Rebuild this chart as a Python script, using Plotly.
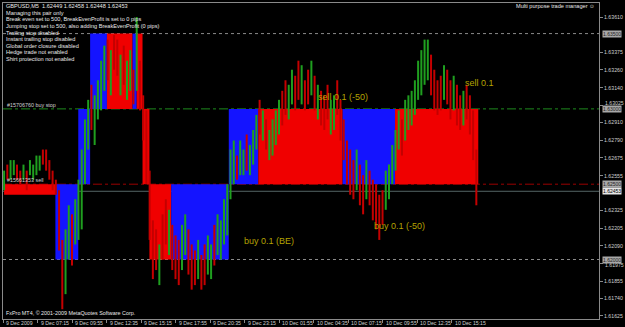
import plotly.graph_objects as go
from datetime import datetime, timedelta

# ---------------- data ----------------
header_text = "GBPUSD,M5  1.62449 1.62458 1.62448 1.62453"
info_lines = [
    "Managing this pair only",
    "Break even set to 500, BreakEvenProfit is set to 0 pips",
    "Jumping stop set to 500, also adding BreakEvenProfit (0 pips)",
    "Trailing stop disabled",
    "Instant trailing stop disabled",
    "Global order closure disabled",
    "Hedge trade not enabled",
    "Shirt protection not enabled",
]
ea_name = "Multi purpose trade manager \u263a"
copyright_text = "FxPro MT4, \u00a9 2001-2009 MetaQuotes Software Corp."

bar_start = "2009-12-09 04:40"
bar_step_min = 15
bar_high = [
    1.6259, 1.6263, 1.6266, 1.6266, 1.6263, 1.6259, 1.6263, 1.6259, 1.6266, 1.6263,
    1.6269, 1.6269, 1.6273, 1.6273, 1.6266, 1.6259, 1.6253, 1.6246, 1.6213, 1.6220,
    1.6236, 1.6230, 1.6240, 1.6253, 1.6273, 1.6293, 1.6306, 1.6316, 1.6309, 1.6319,
    1.6332, 1.6342, 1.6346, 1.6339, 1.6349, 1.6346, 1.6336, 1.6342, 1.6332, 1.6339,
    1.6326, 1.6361, 1.6332, 1.6309, 1.6299, 1.6259, 1.6226, 1.6220, 1.6210, 1.6230,
    1.6240, 1.6233, 1.6223, 1.6216, 1.6213, 1.6223, 1.6230, 1.6220, 1.6210, 1.6206,
    1.6213, 1.6203, 1.6210, 1.6216, 1.6210, 1.6223, 1.6230, 1.6226, 1.6240, 1.6250,
    1.6273, 1.6279, 1.6269, 1.6279, 1.6273, 1.6283, 1.6276, 1.6286, 1.6296, 1.6306,
    1.6299, 1.6293, 1.6286, 1.6293, 1.6299, 1.6306, 1.6312, 1.6319, 1.6316, 1.6326,
    1.6322, 1.6332, 1.6329, 1.6319, 1.6326, 1.6332, 1.6322, 1.6316, 1.6312, 1.6309,
    1.6316, 1.6306, 1.6309, 1.6319, 1.6306, 1.6293, 1.6279, 1.6273, 1.6266, 1.6273,
    1.6263, 1.6256, 1.6266, 1.6259, 1.6253, 1.6250, 1.6243, 1.6246, 1.6259, 1.6263,
    1.6276, 1.6286, 1.6299, 1.6293, 1.6306, 1.6309, 1.6312, 1.6319, 1.6332, 1.6339,
    1.6346, 1.6346, 1.6336, 1.6326, 1.6319, 1.6322, 1.6329, 1.6326, 1.6319, 1.6322,
    1.6316, 1.6309, 1.6312, 1.6316, 1.6309, 1.6299, 1.6273,
]
bar_low = [
    1.6246, 1.6253, 1.6253, 1.6256, 1.6253, 1.6250, 1.6253, 1.6246, 1.6256, 1.6253,
    1.6256, 1.6259, 1.6263, 1.6259, 1.6253, 1.6246, 1.6243, 1.6206, 1.6167, 1.6177,
    1.6200, 1.6196, 1.6210, 1.6213, 1.6220, 1.6250, 1.6273, 1.6286, 1.6276, 1.6293,
    1.6299, 1.6312, 1.6319, 1.6309, 1.6326, 1.6322, 1.6309, 1.6316, 1.6306, 1.6312,
    1.6303, 1.6312, 1.6299, 1.6279, 1.6250, 1.6213, 1.6187, 1.6193, 1.6183, 1.6200,
    1.6210, 1.6203, 1.6193, 1.6187, 1.6183, 1.6193, 1.6203, 1.6190, 1.6180, 1.6183,
    1.6187, 1.6180, 1.6183, 1.6190, 1.6187, 1.6196, 1.6203, 1.6200, 1.6210, 1.6216,
    1.6240, 1.6250, 1.6253, 1.6256, 1.6256, 1.6259, 1.6256, 1.6263, 1.6273, 1.6283,
    1.6279, 1.6273, 1.6266, 1.6269, 1.6276, 1.6283, 1.6289, 1.6296, 1.6293, 1.6303,
    1.6299, 1.6306, 1.6303, 1.6299, 1.6303, 1.6309, 1.6299, 1.6293, 1.6289, 1.6286,
    1.6293, 1.6283, 1.6286, 1.6296, 1.6279, 1.6266, 1.6250, 1.6243, 1.6240, 1.6246,
    1.6236, 1.6230, 1.6240, 1.6236, 1.6226, 1.6220, 1.6213, 1.6223, 1.6233, 1.6240,
    1.6250, 1.6259, 1.6273, 1.6269, 1.6279, 1.6286, 1.6289, 1.6296, 1.6306, 1.6309,
    1.6316, 1.6319, 1.6309, 1.6299, 1.6296, 1.6299, 1.6306, 1.6303, 1.6293, 1.6299,
    1.6289, 1.6286, 1.6289, 1.6293, 1.6283, 1.6266, 1.6236,
]
bar_dir = ("uduudduduuuudddd" "ddduudu" "uuuuduuuu" "dudduduud" "udddddduddud"
           "dduudddudduuduuu" "uuuduuduuu" "duduuuudduudduddududdduudd"
           "ddddudduddddduuu" "uuduuuuuuuu" "ddddudduddudddd")

zone_start = ["2009-12-09 04:40", "2009-12-09 08:38", "2009-12-09 10:24", "2009-12-09 11:19",
              "2009-12-09 12:37", "2009-12-09 14:36", "2009-12-09 14:55", "2009-12-09 15:22",
              "2009-12-09 15:54", "2009-12-09 17:35", "2009-12-09 22:02", "2009-12-10 00:19",
              "2009-12-10 06:50", "2009-12-10 10:53"]
zone_end = ["2009-12-09 08:38", "2009-12-09 10:24", "2009-12-09 11:19", "2009-12-09 12:37",
            "2009-12-09 14:36", "2009-12-09 14:55", "2009-12-09 15:22", "2009-12-09 15:54",
            "2009-12-09 17:35", "2009-12-09 22:02", "2009-12-10 00:19", "2009-12-10 06:50",
            "2009-12-10 10:53", "2009-12-10 17:19"]
zone_low = [1.6243, 1.6200, 1.6250, 1.6300, 1.6300, 1.6300, 1.6300, 1.6250,
            1.6200, 1.6200, 1.6250, 1.6250, 1.6250, 1.6250]
zone_high = [1.6250, 1.6250, 1.6300, 1.6350, 1.6350, 1.6350, 1.6350, 1.6300,
             1.6250, 1.6250, 1.6300, 1.6300, 1.6300, 1.6300]
zone_kind = ["sell", "buy", "buy", "buy", "sell", "buy", "sell", "sell",
             "sell", "buy", "buy", "sell", "buy", "sell"]

level_price = [1.63500, 1.63000, 1.62500, 1.62453, 1.62000]
level_kind = ["grid", "buystop", "sell", "bid", "grid"]
level_label = ["1.63500", "1.63000", "1.62500", "1.62453", "1.62000"]
order_text = ["#15706760 buy stop", "#15661353 sell"]
order_price = [1.63000, 1.62500]

trade_text = ["sell 0.1 (-50)", "sell 0.1", "buy 0.1 (BE)", "buy 0.1 (-50)"]
trade_time = ["2009-12-10 04:46", "2009-12-10 16:10", "2009-12-09 23:01", "2009-12-10 09:07"]
trade_price = [1.6308, 1.6317, 1.6212, 1.6222]

# axis price labels (those fully hidden behind the price boxes are left out)
y_ticks = [1.63610, 1.63375, 1.63260, 1.63140, 1.63025, 1.62910, 1.62790,
           1.62675, 1.62555, 1.62325, 1.62205, 1.62090, 1.61975, 1.61855,
           1.61740, 1.61625]
# labels squeezed next to a price box: drawn with a small nudge (px)
y_nudged = {1.63025: 2, 1.61975: -2}
x_tick_times = ["2009-12-09 04:35", "2009-12-09 07:15", "2009-12-09 09:55", "2009-12-09 12:35",
                "2009-12-09 15:15", "2009-12-09 17:55", "2009-12-09 20:35", "2009-12-09 23:15",
                "2009-12-10 01:55", "2009-12-10 04:35", "2009-12-10 07:15", "2009-12-10 09:55",
                "2009-12-10 12:35", "2009-12-10 15:15"]
x_tick_labels = ["9 Dec 2009", "9 Dec 07:15", "9 Dec 09:55", "9 Dec 12:35", "9 Dec 15:15",
                 "9 Dec 17:55", "9 Dec 20:35", "9 Dec 23:15", "10 Dec 01:55", "10 Dec 04:35",
                 "10 Dec 07:15", "10 Dec 09:55", "10 Dec 12:35", "10 Dec 15:15"]

# ---------------- styling / layout ----------------
W, H = 625, 327
ML, MR, MT, MB = 2, 21, 3, 8
PW, PH = W - ML - MR, H - MT - MB
FONT = "Liberation Sans, Arial, sans-serif"
UP, DOWN = "#1f9f1f", "#c40000"
ZONE_COL = {"buy": "#1414ff", "sell": "#f00000"}
LEVEL_STYLE = {
    "grid": dict(color="#8a8a8a", dash="dot", width=1),
    "buystop": dict(color="#1e8a1e", dash="dashdot", width=1),
    "sell": dict(color="#9a0000", dash="dashdot", width=1),
    "bid": dict(color="#556666", dash="solid", width=1),
}
AX_FONT = dict(family=FONT, size=5.2, color="#d0d0d0")


def px(xp):
    return (xp - ML) / PW


def py(yp):
    return 1 - (yp - MT) / PH


t0 = datetime.strptime(x_tick_times[0], "%Y-%m-%d %H:%M")
min_per_px = 160 / 34.85
x_range = [t0, t0 + timedelta(minutes=PW * min_per_px)]
y_range = [1.61605, 1.63703]

start = datetime.strptime(bar_start, "%Y-%m-%d %H:%M")
ux, uy, dx, dy = [], [], [], []
for i, (hi, lo, d) in enumerate(zip(bar_high, bar_low, bar_dir)):
    t = start + timedelta(minutes=bar_step_min * i)
    if d == "u":
        ux += [t, t, None]
        uy += [lo, hi, None]
    else:
        dx += [t, t, None]
        dy += [lo, hi, None]

fig = go.Figure()
fig.add_trace(go.Scatter(x=dx, y=dy, mode="lines", line=dict(color=DOWN, width=2),
                         hoverinfo="skip"))
fig.add_trace(go.Scatter(x=ux, y=uy, mode="lines", line=dict(color=UP, width=2),
                         hoverinfo="skip"))

shapes = []
for s, e, lo, hi, k in zip(zone_start, zone_end, zone_low, zone_high, zone_kind):
    shapes.append(dict(type="rect", xref="x", yref="y", x0=s, x1=e, y0=lo, y1=hi,
                       fillcolor=ZONE_COL[k], line=dict(width=0), layer="below"))
for p, k in zip(level_price, level_kind):
    shapes.append(dict(type="line", xref="paper", yref="y", x0=0, x1=1, y0=p, y1=p,
                       line=LEVEL_STYLE[k], layer="below"))

ann = []
txt_col = "#e8e8e8"
ann.append(dict(text=header_text, x=px(3), y=py(6), xref="paper", yref="paper",
                xanchor="left", yanchor="middle", showarrow=False,
                font=dict(family=FONT, size=5.6, color=txt_col)))
for k, line in enumerate(info_lines):
    ann.append(dict(text=line, x=px(3), y=py(12.7 + 6.6 * k), xref="paper", yref="paper",
                    xanchor="left", yanchor="middle", showarrow=False,
                    font=dict(family=FONT, size=5.6, color=txt_col)))
ann.append(dict(text=ea_name, x=px(602), y=py(6), xref="paper", yref="paper",
                xanchor="right", yanchor="middle", showarrow=False,
                font=dict(family=FONT, size=5.6, color=txt_col)))
ann.append(dict(text=copyright_text, x=px(3), y=py(313), xref="paper", yref="paper",
                xanchor="left", yanchor="middle", showarrow=False,
                font=dict(family=FONT, size=5.4, color=txt_col)))
for t, p in zip(order_text, order_price):
    ann.append(dict(text=t, x=px(4), y=p, xref="paper", yref="y", xanchor="left",
                    yanchor="bottom", yshift=-1, showarrow=False,
                    font=dict(family=FONT, size=5.4, color="#d0d0d0")))
for t, tm, p in zip(trade_text, trade_time, trade_price):
    ann.append(dict(text=t, x=tm, y=p, xref="x", yref="y", xanchor="left",
                    yanchor="middle", showarrow=False,
                    font=dict(family=FONT, size=9, color="#b4a200")))
for tm, lab in zip(x_tick_times, x_tick_labels):
    ann.append(dict(text=lab, x=tm, y=py(322.5), xref="x", yref="paper", xanchor="left",
                    yanchor="middle", xshift=1, showarrow=False, font=AX_FONT))
for v, shift in y_nudged.items():
    ann.append(dict(text=f"{v:.5f}", x=1, y=v, xref="paper", yref="y", xanchor="left",
                    yanchor="middle", xshift=4, yshift=shift, showarrow=False,
                    font=AX_FONT))
for p, k, lab in zip(level_price, level_kind, level_label):
    if k == "bid":
        bg, fc = "#e6e6e6", "#000000"
    else:
        bg, fc = "#a8a8a8", "#202020"
    ann.append(dict(text=lab, x=1, y=p, xref="paper", yref="y", xanchor="left",
                    yanchor="middle", xshift=3, showarrow=False, bgcolor=bg,
                    borderpad=0, font=dict(family=FONT, size=5.0, color=fc)))

fig.update_layout(
    width=W, height=H, margin=dict(l=ML, r=MR, t=MT, b=MB),
    paper_bgcolor="#000000", plot_bgcolor="#000000", showlegend=False,
    shapes=shapes, annotations=ann,
    xaxis=dict(type="date", range=x_range, showgrid=False, zeroline=False,
               showline=True, mirror=True, linecolor="#8a8a8a", linewidth=1,
               ticks="outside", ticklen=3, tickcolor="#8a8a8a",
               tickvals=x_tick_times, showticklabels=False, fixedrange=True),
    yaxis=dict(side="right", range=y_range, showgrid=False, zeroline=False,
               showline=True, mirror=True, linecolor="#8a8a8a", linewidth=1,
               ticks="outside", ticklen=3, tickcolor="#8a8a8a",
               tickvals=y_ticks,
               ticktext=["" if v in y_nudged else f"{v:.5f}" for v in y_ticks],
               tickfont=AX_FONT, fixedrange=True),
)

fig.write_html("out.html")
